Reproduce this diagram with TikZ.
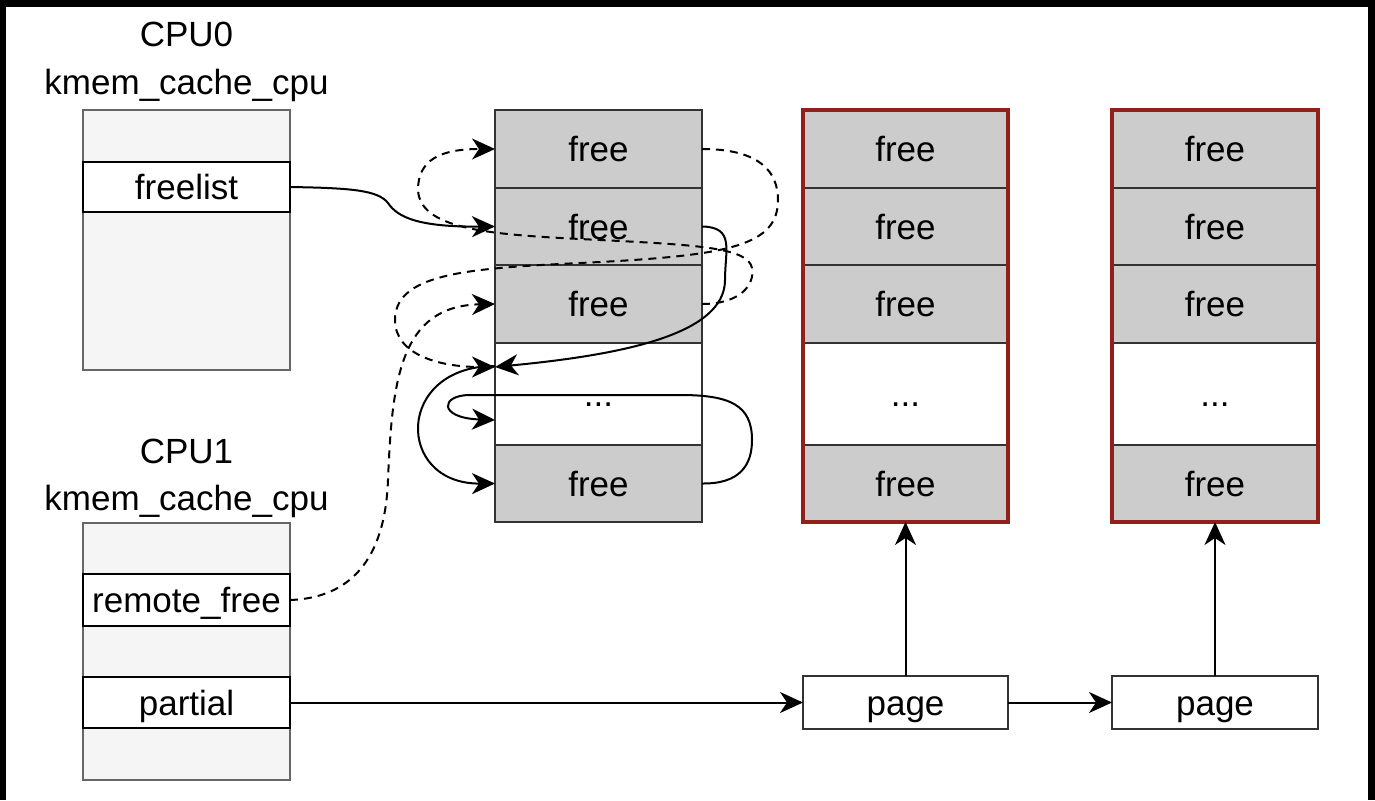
\documentclass[tikz,border=0pt]{standalone}
\usepackage{fontspec}
\setmainfont{Liberation Sans}
\usetikzlibrary{arrows.meta}
\definecolor{cellgray}{HTML}{CCCCCC}
\definecolor{cpufill}{HTML}{F5F5F5}
\definecolor{cpuedge}{HTML}{666666}
\definecolor{redb}{RGB}{145,32,26}
\definecolor{edgec}{HTML}{333333}
\tikzset{
  myhead/.tip={Stealth[length=23pt,width=21pt,inset=7pt]},
  arr/.style={-myhead}
}
\begin{document}
\begin{tikzpicture}[x=1pt,y=-1pt,
  lab/.style={font=\fontsize{35}{42}\selectfont, inner sep=0pt, anchor=base},
  cpubox/.style={draw=cpuedge, fill=cpufill, line width=2pt, minimum width=207pt, inner sep=0pt, outer sep=0pt},
  txt/.style={font=\fontsize{35}{42}\selectfont, text height=25pt, text depth=0pt, inner sep=0pt, outer sep=0pt},
  field/.style={txt, draw=black, fill=white, line width=2pt, minimum width=207pt},
  cell/.style={txt, draw=edgec, fill=cellgray, line width=2pt},
  ecell/.style={txt, draw=edgec, fill=white, line width=2pt},
  pagebox/.style={txt, draw=edgec, fill=white, line width=2pt, minimum height=53pt},
  conn/.style={line width=2pt, draw=black},
  dsh/.style={dash pattern=on 8pt off 6pt}
]
\useasboundingbox (0,0) rectangle (1375,800);
\fill[black] (0,0) rectangle (1375,800);
\fill[white] (6,7) rectangle (1368,800);

% CPU0
\node[lab] (t0a) at (186.5,47) {CPU0};
\node[lab] (t0b) at (186.5,94) {kmem\_cache\_cpu};
\node[cpubox, minimum height=260pt] (cpu0) at (186.5,240) {};
\node[field, minimum height=50pt] (fl) at (186.5,187) {freelist};

% CPU1
\node[lab] (t1a) at (186.5,463) {CPU1};
\node[lab] (t1b) at (186.5,510) {kmem\_cache\_cpu};
\node[cpubox, minimum height=257pt] (cpu1) at (186.5,651.5) {};
\node[field, minimum height=52pt] (rf) at (186.5,600) {remote\_free};
\node[field, minimum height=51pt] (pa) at (186.5,702.5) {partial};

% middle slab
\node[cell, minimum width=207pt, minimum height=78pt] (s0r1) at (598.5,149) {free};
\node[cell, minimum width=207pt, minimum height=77pt] (s0r2) at (598.5,226.5) {free};
\node[cell, minimum width=207pt, minimum height=78pt] (s0r3) at (598.5,304) {free};
\node[ecell, minimum width=207pt, minimum height=102pt] (s0r4) at (598.5,394) {...};
\node[cell, minimum width=207pt, minimum height=77pt] (s0r5) at (598.5,483.5) {free};

% slab 1
\node[cell, minimum width=205pt, minimum height=78pt] (s1r1) at (905.5,149) {free};
\node[cell, minimum width=205pt, minimum height=77pt] (s1r2) at (905.5,226.5) {free};
\node[cell, minimum width=205pt, minimum height=78pt] (s1r3) at (905.5,304) {free};
\node[ecell, minimum width=205pt, minimum height=102pt] (s1r4) at (905.5,394) {...};
\node[cell, minimum width=205pt, minimum height=77pt] (s1r5) at (905.5,483.5) {free};
\draw[redb, line width=4pt] (s1r1.north west) rectangle (s1r5.south east);

% slab 2
\node[cell, minimum width=206pt, minimum height=78pt] (s2r1) at (1215,149) {free};
\node[cell, minimum width=206pt, minimum height=77pt] (s2r2) at (1215,226.5) {free};
\node[cell, minimum width=206pt, minimum height=78pt] (s2r3) at (1215,304) {free};
\node[ecell, minimum width=206pt, minimum height=102pt] (s2r4) at (1215,394) {...};
\node[cell, minimum width=206pt, minimum height=77pt] (s2r5) at (1215,483.5) {free};
\draw[redb, line width=4pt] (s2r1.north west) rectangle (s2r5.south east);

% pages
\node[pagebox, minimum width=205pt] (p1) at (905.5,702.5) {page};
\node[pagebox, minimum width=206pt] (p2) at (1215,702.5) {page};

% solid free-list links
\draw[conn,arr] (fl.east) .. controls (350,188) and (378,190) .. (388,203)
  .. controls (398,218) and (420,227) .. (s0r2.west);
\draw[conn,arr] (s0r2.east) .. controls (735,227) and (725,250) .. (725,280)
  .. controls (725,335) and (620,355) .. ([yshift=27pt]s0r4.west);
\draw[conn,arr] (s0r5.east) .. controls (740,484) and (752,465) .. (752,440)
  .. controls (752,405) and (730,395) .. (680,395) -- (470,395)
  .. controls (440,395) and (438,418) .. ([yshift=-26pt]s0r4.west);
\draw[conn,arr] ([yshift=28pt]s0r4.west) .. controls (395,366) and (395,484) .. (s0r5.west);

% dashed links
\draw[conn,dsh,arr] (s0r1.east) .. controls (760,149) and (778,172) .. (778,200)
  .. controls (778,245) and (730,255) .. (600,262)
  .. controls (480,268) and (395,270) .. (395,320)
  .. controls (395,355) and (440,367) .. ([yshift=27pt]s0r4.west);
\draw[conn,dsh,arr] (s0r3.east) .. controls (740,304) and (755,285) .. (752,268)
  .. controls (748,248) and (700,245) .. (600,240)
  .. controls (500,235) and (420,232) .. (418,190)
  .. controls (418,160) and (440,149) .. (s0r1.west);
\draw[conn,dsh,arr] (rf.east) .. controls (350,598) and (385,560) .. (388,480)
  .. controls (392,380) and (400,306) .. (s0r3.west);

% page links
\draw[conn,arr] (pa.east) -- (p1.west);
\draw[conn,arr] (p1.east) -- (p2.west);
\draw[conn,arr] (p1.north) -- (s1r5.south);
\draw[conn,arr] (p2.north) -- (s2r5.south);
\end{tikzpicture}
\end{document}
